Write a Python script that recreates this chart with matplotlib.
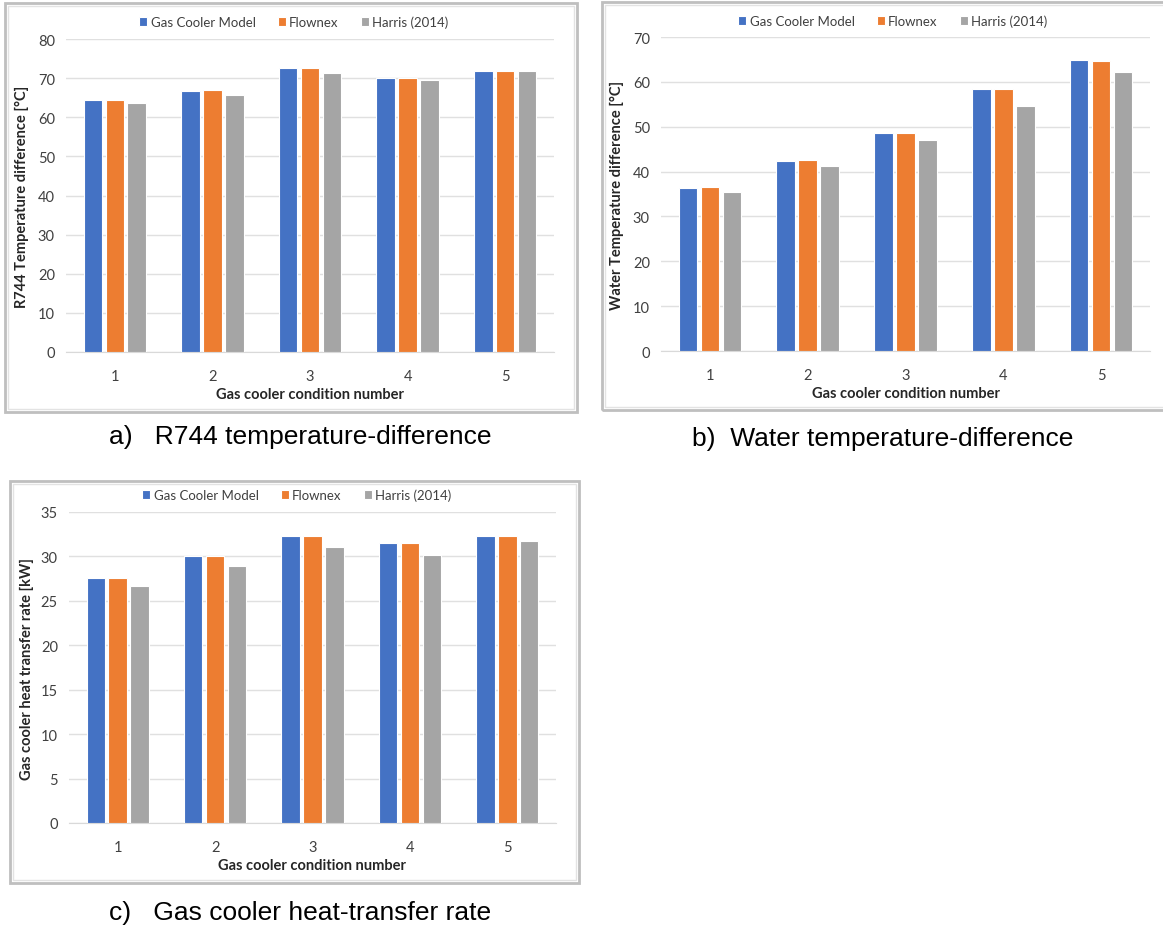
import matplotlib
matplotlib.use("Agg")
import matplotlib.pyplot as plt
from matplotlib.patches import Rectangle
import numpy as np

W, H = 1163, 929

conditions = ["1", "2", "3", "4", "5"]
series_names = ["Gas Cooler Model", "Flownex", "Harris (2014)"]
colors = ["#4472C4", "#ED7D31", "#A5A5A5"]

# a) R744 temperature difference [°C]
r744_model = [64.3, 66.7, 72.5, 70.1, 71.8]
r744_flownex = [64.5, 66.9, 72.5, 70.1, 71.8]
r744_harris = [63.7, 65.8, 71.2, 69.6, 71.8]

# b) Water temperature difference [°C]
water_model = [36.3, 42.4, 48.7, 58.3, 64.9]
water_flownex = [36.5, 42.6, 48.7, 58.3, 64.7]
water_harris = [35.4, 41.2, 47.1, 54.6, 62.3]

# c) Gas cooler heat transfer rate [kW]
q_model = [27.6, 30.1, 32.3, 31.5, 32.3]
q_flownex = [27.6, 30.1, 32.3, 31.5, 32.3]
q_harris = [26.7, 28.9, 31.1, 30.2, 31.7]

FONT = "Lato"
CAP_FONT = "Liberation Sans"

fig = plt.figure(figsize=(W / 100, H / 100), dpi=100)


def rect(x0, y0, x1, y1):
    return [x0 / W, 1 - y1 / H, (x1 - x0) / W, (y1 - y0) / H]


def frame(x0, y0, x1, y1):
    fig.patches.append(Rectangle((x0 / W, 1 - y1 / H), (x1 - x0) / W, (y1 - y0) / H,
                                 transform=fig.transFigure, fill=False,
                                 edgecolor="#BFBFBF", lw=2.0, zorder=0))
    fig.patches.append(Rectangle(((x0 + 3) / W, 1 - (y1 - 3) / H), (x1 - x0 - 6) / W,
                                 (y1 - y0 - 6) / H, transform=fig.transFigure,
                                 fill=False, edgecolor="#E3E3E3", lw=1.0, zorder=0))


def panel(box, ylim, step, data, ylabel, ylabel_x, xlabel_y, legend_xy):
    ax = fig.add_axes(rect(*box))
    x = np.arange(len(conditions))
    pitch = 0.225
    for i, (vals, c, name) in enumerate(zip(data, colors, series_names)):
        ax.bar(x + (i - 1) * pitch, vals, width=0.19, color=c, edgecolor="white",
               linewidth=0.8, label=name, zorder=3)
    ax.set_xlim(-0.5, len(conditions) - 0.5)
    ax.set_ylim(0, ylim)
    ax.set_yticks(np.arange(0, ylim + 0.1, step))
    ax.set_xticks(x)
    ax.set_xticklabels(conditions)
    ax.grid(axis="y", color="#E0E0E0", lw=1.0, zorder=0)
    ax.set_axisbelow(True)
    for s in ["top", "right", "left"]:
        ax.spines[s].set_visible(False)
    ax.spines["bottom"].set_color("#D9D9D9")
    ax.tick_params(length=0, labelsize=10.5, colors="#404040", pad=8)
    ax.tick_params(axis="x", pad=12)
    for t in ax.get_xticklabels() + ax.get_yticklabels():
        t.set_fontfamily(FONT)
    cx = (box[0] + box[2]) / 2
    cy = (box[1] + box[3]) / 2
    fig.text(ylabel_x / W, 1 - cy / H, ylabel, rotation=90, ha="center", va="center",
             fontsize=10.5, fontweight="bold", family=FONT, color="#262626")
    fig.text(cx / W, 1 - xlabel_y / H, "Gas cooler condition number", ha="center",
             va="center", fontsize=10.5, fontweight="bold", family=FONT, color="#262626")
    leg = ax.legend(loc="center", bbox_to_anchor=(legend_xy[0] / W, 1 - legend_xy[1] / H),
                    bbox_transform=fig.transFigure, ncol=3, frameon=False,
                    handlelength=0.6, handleheight=0.6, handletextpad=0.25,
                    columnspacing=1.7, prop={"family": FONT, "size": 9.5})
    for t in leg.get_texts():
        t.set_color("#404040")
    return ax


frame(5, 4, 577, 413)
frame(602, 3, 1175, 411)
frame(10, 482, 579, 884)

panel((66, 40, 554, 353), 80, 10, [r744_model, r744_flownex, r744_harris],
      "R744 Temperature difference [°C]", 22, 395, (294, 23))
panel((661, 38, 1150, 352), 70, 10, [water_model, water_flownex, water_harris],
      "Water Temperature difference [°C]", 617, 394, (893, 22))
panel((69, 513, 556, 824), 35, 5, [q_model, q_flownex, q_harris],
      "Gas cooler heat transfer rate [kW]", 27, 866, (297, 496))

fig.text(109 / W, 1 - 437 / H, "a)   R744 temperature-difference", ha="left", va="center",
         fontsize=19, family=CAP_FONT, color="black")
fig.text(692 / W, 1 - 439 / H, "b)  Water temperature-difference", ha="left", va="center",
         fontsize=19, family=CAP_FONT, color="black")
fig.text(109 / W, 1 - 913 / H, "c)   Gas cooler heat-transfer rate", ha="left", va="center",
         fontsize=19, family=CAP_FONT, color="black")

fig.savefig("out.png", dpi=100, facecolor="white")
